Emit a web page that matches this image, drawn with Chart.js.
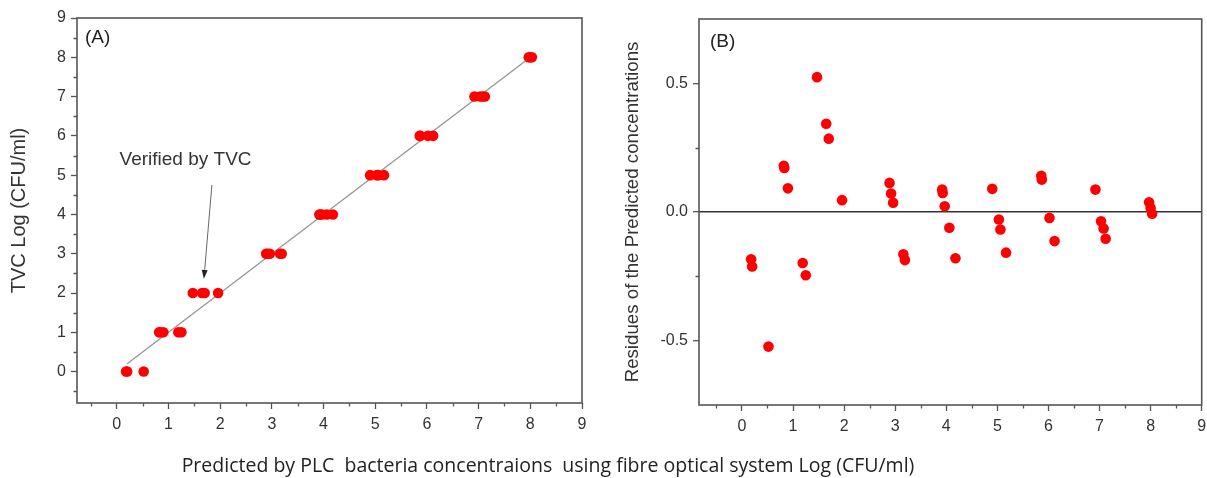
<!DOCTYPE html>
<html>
<head>
<meta charset="utf-8">
<script src="https://cdn.jsdelivr.net/npm/chart.js@4.4.1/dist/chart.umd.min.js"></script>
<style>
  html, body { margin: 0; padding: 0; background: #fff; }
  #wrap { position: relative; width: 1207px; height: 478px; overflow: hidden; }
  #cA { position: absolute; left: 0; top: 0; }
  #cB { position: absolute; left: 600px; top: 0; }
  #xtitle { position: absolute; left: 548px; top: 455px; transform: translateX(-50%);
            font-family: "Open Sans", sans-serif; font-size: 19.5px; line-height: 1; color: #222; white-space: pre; }
</style>
</head>
<body>
<div id="wrap">
  <canvas id="cA" width="600" height="478"></canvas>
  <canvas id="cB" width="607" height="478"></canvas>
  <div id="xtitle">Predicted by PLC  bacteria concentraions  using fibre optical system Log (CFU/ml)</div>
</div>
<script>
// ---- Data ----
const predicted = [0.18, 0.20, 0.52, 0.82, 0.83, 0.90, 1.19, 1.25, 1.47, 1.65, 1.70, 1.96,
                   2.89, 2.92, 2.96, 3.16, 3.19, 3.92, 3.93, 3.97, 4.06, 4.18,
                   4.90, 5.03, 5.06, 5.17, 5.86, 5.87, 6.02, 6.12,
                   6.92, 7.03, 7.08, 7.12, 7.97, 8.00, 8.03];
const tvc = [0, 0, 0, 1, 1, 1, 1, 1, 2, 2, 2, 2,
             3, 3, 3, 3, 3, 4, 4, 4, 4, 4,
             5, 5, 5, 5, 6, 6, 6, 6,
             7, 7, 7, 7, 8, 8, 8];
const residues = [-0.184, -0.212, -0.523, 0.180, 0.171, 0.092, -0.198, -0.246, 0.524, 0.343, 0.285, 0.046,
                  0.113, 0.072, 0.036, -0.164, -0.187, 0.087, 0.074, 0.022, -0.061, -0.180,
                  0.090, -0.029, -0.068, -0.158, 0.141, 0.126, -0.023, -0.113,
                  0.087, -0.036, -0.064, -0.104, 0.038, 0.016, -0.007];
const fitX = [0.2, 8.0];
const fitY = [0.2, 8.0];

// ---- Ticks ----
const xTicks = [0, 1, 2, 3, 4, 5, 6, 7, 8, 9];
const xMinor = [-0.5, 0.5, 1.5, 2.5, 3.5, 4.5, 5.5, 6.5, 7.5, 8.5];
const yTicksA = [0, 1, 2, 3, 4, 5, 6, 7, 8, 9];
const yMinorA = [-0.5, 0.5, 1.5, 2.5, 3.5, 4.5, 5.5, 6.5, 7.5, 8.5];
const yTicksB = [-0.5, 0, 0.5];
const yTickLabelsB = ['-0.5', '0.0', '0.5'];
const yMinorB = [-0.25, 0.25];

// ---- Text ----
const yTitleA = 'TVC Log (CFU/ml)';
const yTitleB = 'Residues of the Predicted concentrations';
const panelA = '(A)', panelB = '(B)';
const noteText = 'Verified by TVC';
const notePos = {x: 1.33, y: 5.40};
const arrowFrom = {x: 1.84, y: 4.75}, arrowTo = {x: 1.685, y: 2.36};

// ---- Styles ----
const tickFont = {family: '"Liberation Sans", Arial, sans-serif', size: 16};
const titleFontA = {family: '"Liberation Sans", Arial, sans-serif', size: 20};
const titleFontB = {family: '"Liberation Sans", Arial, sans-serif', size: 18.7};
const textColor = '#333';
const axisColor = '#555';
const red = '#ff0000';

const framePlugin = {
  id: 'frame',
  afterDraw(chart, args, opts) {
    const {ctx, chartArea: a, scales} = chart;
    ctx.save();
    // minor ticks
    ctx.strokeStyle = axisColor; ctx.lineWidth = 1.3;
    ctx.beginPath();
    (opts.xMinor || []).forEach(v => {
      const px = Math.round(scales.x.getPixelForValue(v)) + 0.5;
      ctx.moveTo(px, a.bottom); ctx.lineTo(px, a.bottom + 3.5);
    });
    (opts.yMinor || []).forEach(v => {
      const py = Math.round(scales.y.getPixelForValue(v)) + 0.5;
      ctx.moveTo(a.left, py); ctx.lineTo(a.left - 3.5, py);
    });
    ctx.stroke();
    // frame
    ctx.lineWidth = 1.6; ctx.strokeStyle = axisColor;
    ctx.strokeRect(a.left, a.top, a.right - a.left, a.bottom - a.top);
    // panel label
    ctx.fillStyle = '#222';
    ctx.font = '19px "Liberation Sans", Arial, sans-serif';
    ctx.textBaseline = 'middle'; ctx.textAlign = 'left';
    ctx.fillText(opts.label, a.left + opts.labelDx, a.top + opts.labelDy);
    // annotation
    if (opts.note) {
      ctx.font = '19px "Liberation Sans", Arial, sans-serif';
      ctx.fillStyle = textColor; ctx.textAlign = 'center';
      ctx.fillText(opts.note, scales.x.getPixelForValue(notePos.x), scales.y.getPixelForValue(notePos.y));
      const x1 = scales.x.getPixelForValue(arrowFrom.x), y1 = scales.y.getPixelForValue(arrowFrom.y);
      const x2 = scales.x.getPixelForValue(arrowTo.x), y2 = scales.y.getPixelForValue(arrowTo.y);
      const ang = Math.atan2(y2 - y1, x2 - x1);
      const hl = 9, hw = 3;
      const bx = x2 - hl * Math.cos(ang), by = y2 - hl * Math.sin(ang);
      ctx.strokeStyle = '#666'; ctx.lineWidth = 1;
      ctx.beginPath(); ctx.moveTo(x1, y1); ctx.lineTo(bx, by); ctx.stroke();
      ctx.fillStyle = '#222';
      ctx.beginPath();
      ctx.moveTo(x2, y2);
      ctx.lineTo(bx + hw * Math.sin(ang), by - hw * Math.cos(ang));
      ctx.lineTo(bx - hw * Math.sin(ang), by + hw * Math.cos(ang));
      ctx.closePath(); ctx.fill();
    }
    ctx.restore();
  }
};

function xScale(min, height) {
  return {
    type: 'linear', min: min, max: 9,
    afterBuildTicks: s => { s.ticks = xTicks.map(v => ({value: v})); },
    ticks: {font: tickFont, color: textColor, padding: 6, maxRotation: 0, autoSkip: false,
            callback: v => String(v)},
    grid: {drawOnChartArea: false, tickLength: 6, tickColor: axisColor, tickWidth: 1.3},
    border: {display: false},
    afterFit: s => { s.height = height; s.paddingLeft = 0; s.paddingRight = 0; }
  };
}

// Panel A
new Chart(document.getElementById('cA'), {
  type: 'scatter',
  data: {
    datasets: [
      {type: 'line', data: fitX.map((x, i) => ({x: x, y: fitY[i]})), borderColor: '#959595',
       borderWidth: 1.3, pointRadius: 0, fill: false, order: 2},
      {data: predicted.map((x, i) => ({x: x, y: tvc[i]})), backgroundColor: red, borderWidth: 0,
       pointRadius: 5.3, order: 1}
    ]
  },
  options: {
    responsive: false, animation: false, events: [],
    layout: {padding: {top: 18, right: 18, left: 0, bottom: 0}},
    plugins: {legend: {display: false}, tooltip: {enabled: false},
      frame: {xMinor: xMinor, yMinor: yMinorA, label: panelA, labelDx: 8, labelDy: 19.5, note: noteText}},
    scales: {
      x: xScale(-0.77, 75),
      y: {
        type: 'linear', min: -0.8, max: 9,
        afterBuildTicks: s => { s.ticks = yTicksA.map(v => ({value: v})); },
        ticks: {font: tickFont, color: textColor, padding: 5, callback: v => String(v)},
        grid: {drawOnChartArea: false, tickLength: 6, tickColor: axisColor, tickWidth: 1.3},
        border: {display: false},
        title: {display: true, text: yTitleA, font: titleFontA, color: textColor, padding: {top: 7, bottom: 0}},
        afterFit: s => { s.width = 77; }
      }
    }
  },
  plugins: [framePlugin]
});

// Panel B
new Chart(document.getElementById('cB'), {
  type: 'scatter',
  data: {
    datasets: [
      {data: predicted.map((x, i) => ({x: x, y: residues[i]})), backgroundColor: red, borderWidth: 0,
       pointRadius: 5.3}
    ]
  },
  options: {
    responsive: false, animation: false, events: [],
    layout: {padding: {top: 19, right: 2, left: 0, bottom: 0}},
    plugins: {legend: {display: false}, tooltip: {enabled: false},
      frame: {xMinor: xMinor, yMinor: yMinorB, label: panelB, labelDx: 11, labelDy: 23}},
    scales: {
      x: xScale(-0.84, 73),
      y: {
        type: 'linear', min: -0.75, max: 0.75,
        afterBuildTicks: s => { s.ticks = yTicksB.map(v => ({value: v})); },
        ticks: {font: tickFont, color: textColor, padding: 5,
                callback: (v) => yTickLabelsB[yTicksB.indexOf(v)] ?? String(v)},
        grid: {drawOnChartArea: true, tickLength: 6, tickColor: axisColor, tickWidth: 1.3,
               color: c => (c.tick && c.tick.value === 0) ? '#333' : 'rgba(0,0,0,0)', lineWidth: 1.4},
        border: {display: false},
        title: {display: true, text: yTitleB, font: titleFontB, color: textColor, padding: {top: 22, bottom: 0}},
        afterFit: s => { s.width = 99; }
      }
    }
  },
  plugins: [framePlugin]
});
</script>
</body>
</html>
